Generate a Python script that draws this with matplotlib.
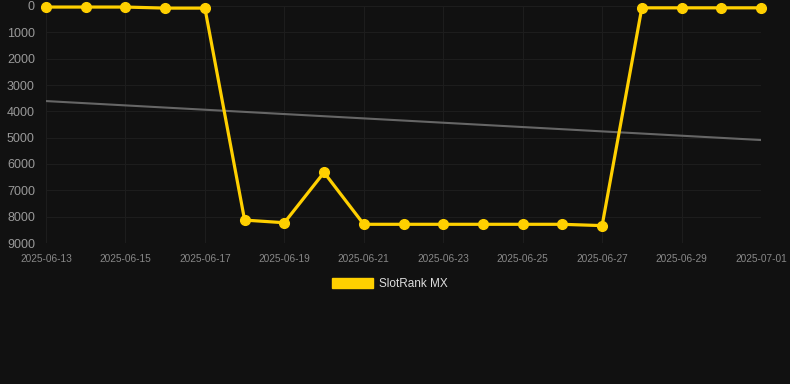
import matplotlib
matplotlib.use("Agg")
import matplotlib.pyplot as plt
import matplotlib.dates as mdates
import numpy as np
import pandas as pd

plt.rcParams['font.family'] = ['Liberation Sans', 'DejaVu Sans']

dates = pd.date_range("2025-06-13", "2025-07-01", freq="D")
rank = [40, 40, 40, 80, 80, 8130, 8230, 6320, 8290, 8290, 8290,
        8290, 8290, 8290, 8340, 70, 70, 70, 70]
trend_start, trend_end = 3610, 5090

bg = "#111111"
gold = "#ffd000"

fig = plt.figure(figsize=(7.9, 3.84), dpi=100, facecolor=bg)
ax = fig.add_axes([46/790, 1 - 243/384, (761 - 46)/790, (243 - 6)/384])
ax.set_facecolor(bg)

ax.plot([dates[0], dates[-1]], [trend_start, trend_end], color="#666666", lw=1.5, zorder=2)
ax.plot(dates, rank, color=gold, lw=2.3, marker="o", ms=7, zorder=3, clip_on=False,
        label="SlotRank MX")

ax.set_xlim(dates[0], dates[-1])
ax.set_ylim(9000, 0)
ax.set_yticks(np.arange(0, 9001, 1000))
ax.xaxis.set_major_locator(mdates.DayLocator(interval=2))
ax.xaxis.set_major_formatter(mdates.DateFormatter("%Y-%m-%d"))

ax.grid(True, color="#1d1d1d", lw=0.8)
ax.set_axisbelow(True)
for s in ax.spines.values():
    s.set_visible(False)
ax.tick_params(axis="y", length=0, pad=8, labelsize=9, labelcolor="#999999")
ax.tick_params(axis="x", length=0, pad=8, labelsize=7.3, labelcolor="#888888")

leg = fig.legend(handles=[plt.Rectangle((0, 0), 1, 1, color=gold)], labels=["SlotRank MX"],
                 loc="center", bbox_to_anchor=(390/790, 1 - 284/384), frameon=False,
                 handlelength=3.5, handleheight=1.0, fontsize=8.5, labelcolor="#dddddd",
                 handletextpad=0.5)

fig.savefig("out.png", dpi=100, facecolor=bg)
